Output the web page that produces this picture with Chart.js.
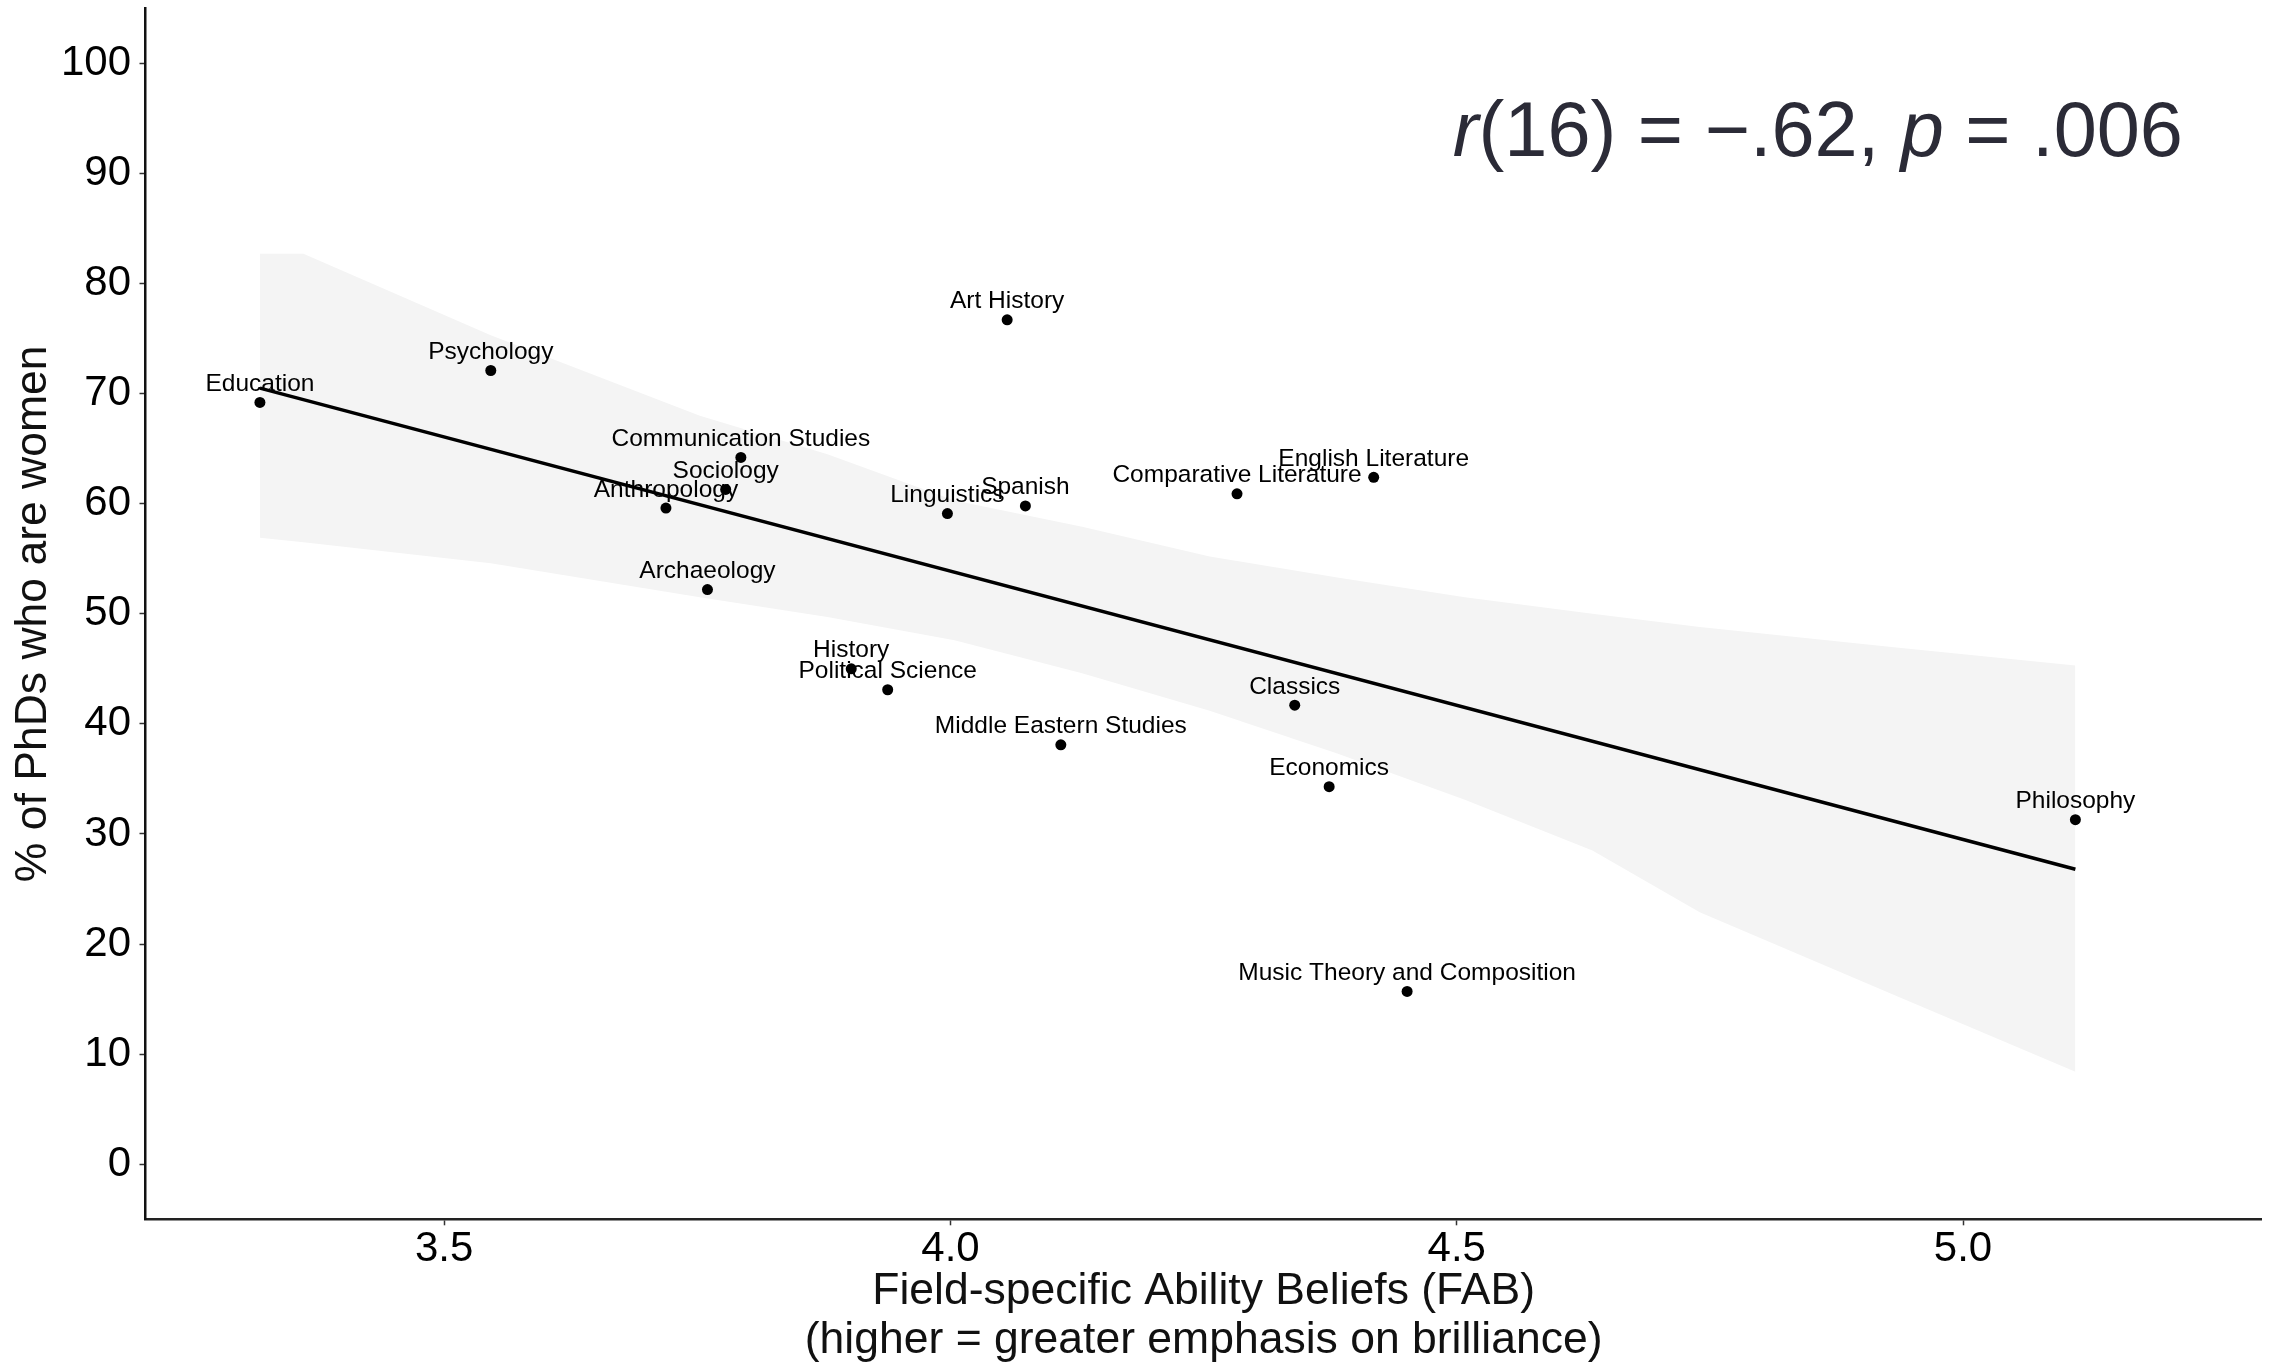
<!DOCTYPE html>
<html>
<head>
<meta charset="utf-8">
<script src="https://cdn.jsdelivr.net/npm/chart.js@4.4.1/dist/chart.umd.min.js"></script>
<style>
html, body { margin: 0; padding: 0; background: #fff; }
#wrap { width: 2276px; height: 1367px; position: relative; }
</style>
</head>
<body>
<div id="wrap"><canvas id="fabChart"></canvas></div>
<script>
// Campos e valores
const fields = ['Education', 'Psychology', 'Anthropology', 'Archaeology', 'Sociology',
    'Communication Studies', 'History', 'Political Science', 'Linguistics', 'Art History',
    'Spanish', 'Middle Eastern Studies', 'Comparative Literature', 'Classics', 'Economics',
    'English Literature', 'Music Theory and Composition', 'Philosophy'];
const fabScores = [3.318, 3.546, 3.719, 3.760, 3.778, 3.793, 3.902, 3.938, 3.997, 4.056,
    4.074, 4.109, 4.283, 4.340, 4.374, 4.418, 4.451, 5.111];
const pctWomen = [69.2, 72.1, 59.6, 52.2, 61.3, 64.2, 45.0, 43.1, 59.1, 76.7,
    59.8, 38.1, 60.9, 41.7, 34.3, 62.4, 15.7, 31.3];

// Reta de regressão e faixa de confiança
const fitX = [3.318, 5.111];
const fitY = [70.5, 26.8];
const bandX = [3.318, 3.361, 3.546, 3.7525, 3.8785, 4.004, 4.130, 4.256, 4.382, 4.508, 4.634, 4.740, 4.939, 5.111];
const bandUpper = [82.7, 82.7, 75.3, 68.0, 64.5, 60.3, 57.9, 55.2, 53.3, 51.5, 50.0, 48.8, 46.9, 45.3];
const bandLower = [56.9, 56.5, 54.6, 51.5, 49.7, 47.6, 44.6, 41.2, 37.3, 33.1, 28.5, 22.9, 15.1, 8.4];

const xTicks = [3.5, 4.0, 4.5, 5.0];
const yTicks = [0, 10, 20, 30, 40, 50, 60, 70, 80, 90, 100];

// Texto da estatística (itálico nas letras r e p)
const statParts = [['r', true], ['(16) = \u2212.62, ', false], ['p', true], [' = .006', false]];
const statPos = { x: 4.496, y: 91.6 };

const FONT = '"Liberation Sans", Arial, Helvetica, sans-serif';

const toPoints = (xs, ys) => xs.map((v, i) => ({ x: v, y: ys[i] }));

// Rótulos dos campos + anotação
const fieldLabels = {
    id: 'fieldLabels',
    afterDatasetsDraw(chart) {
        const { ctx, scales: { x, y } } = chart;
        ctx.save();
        ctx.font = '24.5px ' + FONT;
        ctx.fillStyle = '#000';
        ctx.textAlign = 'center';
        ctx.textBaseline = 'alphabetic';
        fields.forEach((f, i) => {
            ctx.fillText(f, x.getPixelForValue(fabScores[i]), y.getPixelForValue(pctWomen[i]) - 11.5);
        });

        ctx.fillStyle = '#2b2b37';
        ctx.textAlign = 'left';
        let px = x.getPixelForValue(statPos.x);
        const py = y.getPixelForValue(statPos.y);
        statParts.forEach(([t, it]) => {
            ctx.font = (it ? 'italic ' : '') + '77.5px ' + FONT;
            ctx.fillText(t, px, py);
            px += ctx.measureText(t).width;
        });
        ctx.restore();
    }
};

const ctx = document.getElementById('fabChart').getContext('2d');
new Chart(ctx, {
    type: 'line',
    data: {
        datasets: [
            {
                label: 'fields',
                data: toPoints(fabScores, pctWomen),
                showLine: false,
                pointRadius: 5.5,
                pointBackgroundColor: '#000',
                pointBorderWidth: 0,
                borderColor: '#000'
            },
            {
                label: 'fit',
                data: toPoints(fitX, fitY),
                borderColor: '#000',
                borderWidth: 3.5,
                pointRadius: 0,
                fill: false
            },
            {
                label: 'upper',
                data: toPoints(bandX, bandUpper),
                borderWidth: 0,
                borderColor: 'rgba(0,0,0,0)',
                pointRadius: 0,
                backgroundColor: 'rgb(244,244,244)',
                fill: '+1'
            },
            {
                label: 'lower',
                data: toPoints(bandX, bandLower),
                borderWidth: 0,
                borderColor: 'rgba(0,0,0,0)',
                pointRadius: 0,
                fill: false
            }
        ]
    },
    options: {
        responsive: true,
        maintainAspectRatio: false,
        animation: false,
        devicePixelRatio: 1,
        layout: { padding: { top: 8.3, right: 14.3, left: 0, bottom: 0 } },
        plugins: {
            legend: { display: false },
            tooltip: { enabled: false }
        },
        scales: {
            x: {
                type: 'linear',
                min: 3.205,
                max: 5.295,
                afterBuildTicks: s => { s.ticks = xTicks.map(v => ({ value: v })); },
                afterFit: s => { s.height = 147.7; s.paddingLeft = 0; s.paddingRight = 0; },
                border: { display: true, color: '#222', width: 2.5 },
                grid: { display: true, drawOnChartArea: false, drawTicks: true, tickLength: 6, tickColor: '#333', tickWidth: 1.5 },
                ticks: {
                    autoSkip: false, maxRotation: 0, padding: 3, color: '#000',
                    font: { family: FONT, size: 42, lineHeight: 1 },
                    callback: v => v.toFixed(1)
                },
                title: {
                    display: true,
                    text: ['Field-specific Ability Beliefs (FAB)', '(higher = greater emphasis on brilliance)'],
                    color: '#111',
                    font: { family: FONT, size: 44.5, lineHeight: 1.094 },
                    padding: { top: 0, bottom: 2 }
                }
            },
            y: {
                type: 'linear',
                min: -5,
                max: 105,
                afterBuildTicks: s => { s.ticks = yTicks.map(v => ({ value: v })); },
                afterFit: s => { s.width = 145.5; s.paddingTop = 0; s.paddingBottom = 0; },
                border: { display: true, color: '#111', width: 2.5 },
                grid: { display: true, drawOnChartArea: false, drawTicks: true, tickLength: 6, tickColor: '#333', tickWidth: 1.5 },
                ticks: {
                    autoSkip: false, padding: 8.5, color: '#000',
                    font: { family: FONT, size: 42 }
                },
                title: {
                    display: true,
                    text: '% of PhDs who are women',
                    color: '#111',
                    font: { family: FONT, size: 44.5, lineHeight: 1.2 },
                    padding: { top: 7, bottom: 0 }
                }
            }
        }
    },
    plugins: [fieldLabels]
});
</script>
</body>
</html>
